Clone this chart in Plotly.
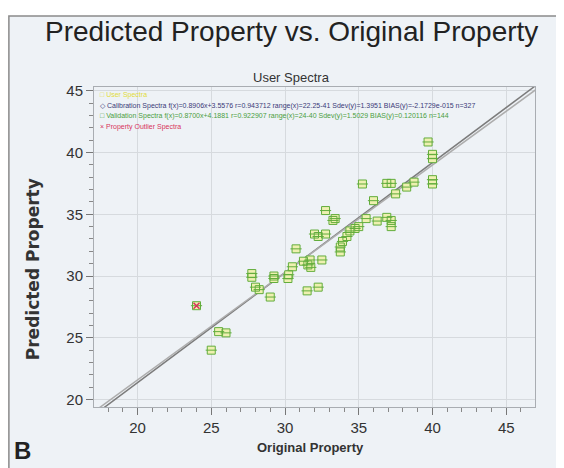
import numpy as np
import plotly.graph_objects as go

# validation spectra
val_x = [24.0, 25.0, 25.5, 26.0, 27.75, 27.75, 28.0, 28.25, 29.0, 29.25, 29.25,
         30.2, 30.25, 30.5, 30.75, 31.25, 31.5, 31.55, 31.7, 31.75, 32.0, 32.25,
         32.25, 32.5, 32.75, 32.75, 33.25, 33.4, 33.75, 33.75, 33.9, 34.2, 34.4,
         34.75, 35.0, 35.25, 35.5, 36.0, 36.25, 36.9, 36.9, 37.2, 37.2, 37.2,
         37.5, 38.25, 38.75, 39.7, 40.0, 40.0, 40.0, 40.0]
val_y = [27.6, 24.0, 25.5, 25.4, 30.2, 29.9, 29.1, 28.9, 28.3, 29.8, 30.0,
         29.8, 30.1, 30.75, 32.2, 31.2, 28.8, 30.9, 31.3, 30.7, 33.4, 29.1,
         33.2, 31.3, 33.4, 35.3, 34.5, 34.65, 32.35, 31.95, 32.8, 33.2, 33.65,
         33.85, 34.0, 37.45, 34.65, 36.1, 34.45, 37.5, 34.75, 37.5, 34.5, 34.0,
         36.65, 37.2, 37.6, 40.85, 39.85, 39.5, 37.8, 37.45]

outlier_x = [24.0]
outlier_y = [27.6]

# regression lines from the legend text
fit_names = ["Calibration", "Validation"]
fit_slope = [0.8906, 0.8700]
fit_icpt = [3.5576, 4.1881]
fit_colors = ["#7c7c7c", "#adadad"]

legend_text = [
    "\u25a1 User Spectra",
    "\u25c7 Calibration Spectra f(x)=0.8906x+3.5576 r=0.943712 range(x)=22.25-41 Sdev(y)=1.3951 BIAS(y)=-2.1729e-015 n=327",
    "\u25a1 Validation Spectra f(x)=0.8700x+4.1881 r=0.922907 range(x)=24-40 Sdev(y)=1.5029 BIAS(y)=0.120116 n=144",
    "\u00d7 Property Outlier Spectra",
]
legend_colors = ["#e2dc3a", "#3b3a78", "#4a9e3e", "#d8345c"]

SANS = "Liberation Sans, Arial, sans-serif"

fig = go.Figure()

line_x = np.array([17.0, 47.0])
for name, m, b, c in zip(fit_names, fit_slope, fit_icpt, fit_colors):
    fig.add_trace(go.Scatter(x=line_x, y=m * line_x + b, mode="lines",
                             line=dict(color=c, width=1.5), name=name,
                             showlegend=False, hoverinfo="skip"))

# user spectra (yellow fill) under the validation squares
fig.add_trace(go.Scatter(x=val_x, y=val_y, mode="markers", showlegend=False,
                         marker=dict(symbol="square", size=8, color="#eef0b0",
                                     line=dict(width=0))))
fig.add_trace(go.Scatter(x=val_x, y=val_y, mode="markers", showlegend=False,
                         marker=dict(symbol="square-open", size=8, color="#62ad3c",
                                     line=dict(width=1))))
fig.add_trace(go.Scatter(x=val_x, y=val_y, mode="markers", showlegend=False,
                         marker=dict(symbol="line-ew", size=8,
                                     line=dict(color="#62ad3c", width=1))))
fig.add_trace(go.Scatter(x=outlier_x, y=outlier_y, mode="markers", showlegend=False,
                         marker=dict(symbol="x-thin", size=6,
                                     line=dict(color="#d8345c", width=1.5))))

axis_common = dict(
    showgrid=True, gridcolor="#d6dade", gridwidth=1,
    showline=True, linecolor="#a9adb2", linewidth=1, mirror=True,
    ticks="outside", ticklen=7, tickcolor="#777", zeroline=False,
    tickfont=dict(family=SANS, size=15, color="#333"),
    minor=dict(ticks="outside", ticklen=4, dtick=1, tickcolor="#888", showgrid=False),
)
fig.update_xaxes(range=[17.05, 46.95], dtick=5, tick0=0, **axis_common)
fig.update_yaxes(range=[19.4, 45.3], dtick=5, tick0=0, **axis_common)

# frame around the whole panel
fig.add_shape(type="rect", xref="paper", yref="paper", layer="below",
              x0=-0.193, x1=1.08, y0=-0.2, y1=1.222,
              fillcolor="#eef2f6", line=dict(color="#8a8a8a", width=1.5))

annotations = [
    dict(text="Predicted Property vs. Original Property", x=0.447, y=1.172,
         font=dict(family=SANS, size=28, color="#222"), yanchor="middle"),
    dict(text="User Spectra", x=0.447, y=1.03,
         font=dict(family=SANS, size=13, color="#333"), yanchor="middle"),
    dict(text="<b>Predicted Property</b>", x=-0.138, y=0.431, textangle=-90,
         font=dict(family="DejaVu Sans", size=17, color="#333"), yanchor="middle"),
    dict(text="<b>Original Property</b>", x=0.49, y=-0.125,
         font=dict(family=SANS, size=13, color="#333"), yanchor="middle"),
    dict(text="<b>B</b>", x=-0.185, y=-0.135,
         font=dict(family=SANS, size=24, color="#222"),
         xanchor="left", yanchor="middle"),
]
for i, (t, c) in enumerate(zip(legend_text, legend_colors)):
    annotations.append(dict(text=t, x=0.008, y=0.975 - i * 0.0335, xanchor="left",
                            yanchor="middle",
                            font=dict(family=SANS, size=7, color=c)))
for a in annotations:
    a.setdefault("xanchor", "center")
    fig.add_annotation(xref="paper", yref="paper", showarrow=False, **a)

# the page body adds an 8px offset, so the figure is 8px smaller each way
fig.update_layout(
    width=556, height=460,
    margin=dict(l=86, r=29, t=79, b=61),
    paper_bgcolor="white", plot_bgcolor="#f3f6f9",
    showlegend=False,
)

fig.write_html("out.html")
